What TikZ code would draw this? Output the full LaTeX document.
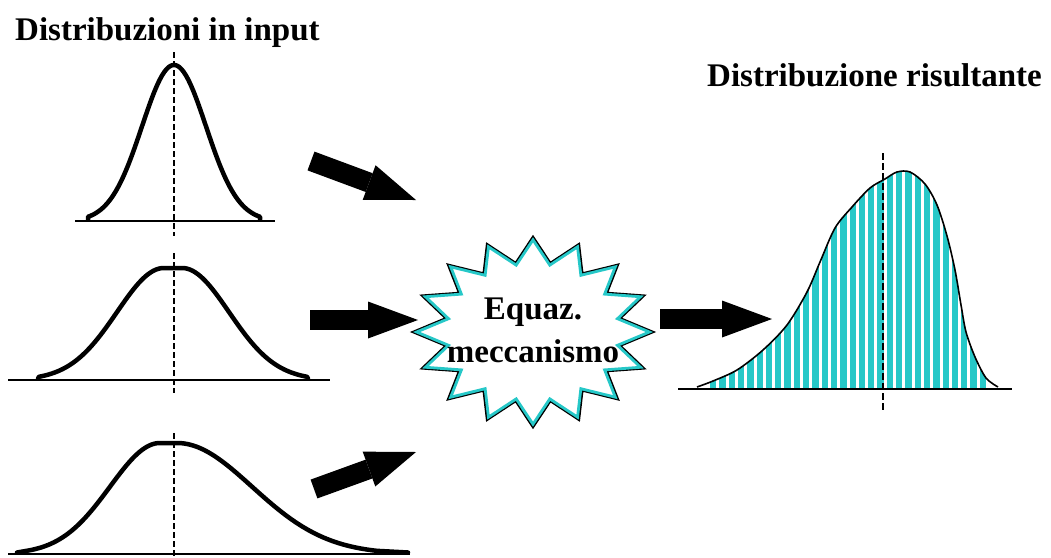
\documentclass[tikz,border=0pt]{standalone}
\usepackage{fontspec}
\setmainfont{Liberation Serif}
\usetikzlibrary{arrows.meta}
\definecolor{tq}{RGB}{38,200,200}
\newcommand\burstpath[1]{plot[samples at={0,...,31}, variable=\k]
  ({533+#1*120*ifthenelse(mod(\k,2)==0,1,0.74)*cos(90+11.25*\k)},
   {332-#1*95*ifthenelse(mod(\k,2)==0,1,0.74)*sin(90+11.25*\k)}) -- cycle}
\begin{document}
\begin{tikzpicture}[x=1pt,y=-1pt,
  curve/.style={line width=4.5pt, line join=round, line cap=round},
  base/.style={line width=2pt},
  axis/.style={line width=2.8pt, dash pattern=on 6pt off 3pt},
  blockarrow/.style={line width=20pt, -{Triangle[length=50pt,width=37pt,line width=0pt]}},
  title/.style={font=\fontsize{33}{43}\selectfont\bfseries, inner sep=0pt}
]
\useasboundingbox (0,0) rectangle (1051,557);

% titles
\node[title, anchor=base west] (tin) at (15,40) {Distribuzioni in input};
\node[title, anchor=base west] (tout) at (707,86) {Distribuzione risultante};

% input curve 1
\draw[base] (75,221) -- (275,221);
\draw[axis] (174,52) -- (174,236);
\draw[curve] (88,219.5) -- plot[domain=-86:86, samples=80, smooth]
  ({174+\x},{221-156*exp(-0.5*(\x/32)^2)}) -- (260,219.5);

% input curve 2
\draw[base] (8,380) -- (330,380);
\draw[axis] (174,253) -- (174,393);
\draw[curve] (38,378.5) -- plot[domain=-125:0, samples=50, smooth]
  ({164+\x},{380-112*exp(-0.5*(\x/47)^2)}) -- plot[domain=0:125, samples=50, smooth]
  ({182+\x},{380-112*exp(-0.5*(\x/47)^2)}) -- (308,378.5);

% input curve 3
\draw[base] (8,554) -- (410,554);
\draw[axis] (174,433) -- (174,557);
\draw[curve] (17,552.5) -- plot[domain=-130:0, samples=50, smooth]
  ({160+\x},{554-111*exp(-0.5*(\x/50)^2)}) -- plot[domain=0:200, samples=60, smooth]
  ({177+\x},{554-111*exp(-0.5*(\x/75)^2)}) -- (408,552.5);

% arrows into the mechanism
\coordinate (a1s) at (311,161); \coordinate (a1e) at (416,200);
\coordinate (a2s) at (310,320); \coordinate (a2e) at (418,320);
\coordinate (a3s) at (314,489); \coordinate (a3e) at (416,452);
\draw[blockarrow] (a1s) -- (a1e);
\draw[blockarrow] (a2s) -- (a2e);
\draw[blockarrow] (a3s) -- (a3e);

% starburst
\filldraw[fill=white, draw=black, line width=2.4pt, line join=miter] \burstpath{1};
\draw[tq, line width=2.8pt, line join=miter] \burstpath{0.97};
\node[font=\fontsize{33}{43}\selectfont\bfseries, align=center, inner sep=0pt] (eq) at (533,330) {Equaz.\\meccanismo};

% output arrow
\coordinate (a4s) at (660,319); \coordinate (a4e) at (772,319);
\draw[blockarrow] (a4s) -- (a4e);

% resulting distribution
\begin{scope}
  \clip (697,389) -- plot[smooth] coordinates {(697,387) (713,381) (737,370) (763,350) (787,325) (807,292) (820,262) (835,228) (852,207) (870,188) (885,179) (897,172) (910,172) (925,184) (937,205) (947,236) (955,270) (961,305) (966,332) (975,357) (986,378) (998,387)} -- (998,389) -- cycle;
  \foreach \i in {0,...,29} \fill[tq] ({710+\i*9.3},390) rectangle ++(6.3,-240);
\end{scope}
\draw[line width=1.6pt] plot[smooth] coordinates {(697,387) (713,381) (737,370) (763,350) (787,325) (807,292) (820,262) (835,228) (852,207) (870,188) (885,179) (897,172) (910,172) (925,184) (937,205) (947,236) (955,270) (961,305) (966,332) (975,357) (986,378) (998,387)};
\draw[base] (678,389) -- (1012,389);
\draw[line width=1.6pt, dash pattern=on 7pt off 3pt] (883,153) -- (883,412);
\end{tikzpicture}
\end{document}
